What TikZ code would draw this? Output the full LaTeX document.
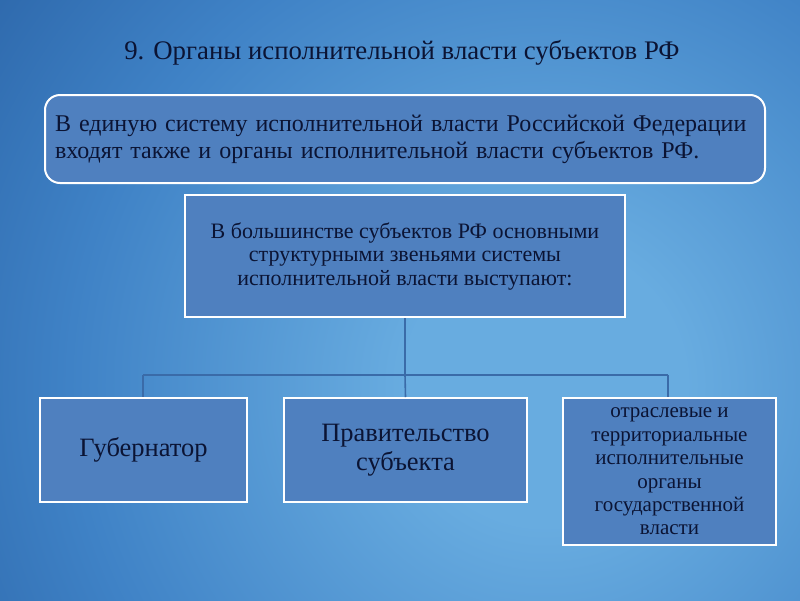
\documentclass[tikz,border=0pt]{standalone}
\usepackage{fontspec}
\setmainfont{Liberation Serif}
\definecolor{bgD}{HTML}{1B4A87}
\definecolor{bgT}{HTML}{2A63A6}
\definecolor{bgM}{HTML}{3F82C6}
\definecolor{bgL}{HTML}{68ACE0}
\definecolor{boxfill}{HTML}{4F80BF}
\definecolor{ink}{HTML}{0B1434}
\definecolor{conn}{HTML}{3A6BA8}
\pgfdeclareradialshading{bgshade}{\pgfpoint{0bp}{0bp}}{color(0bp)=(bgL); color(5bp)=(bgL); color(17bp)=(bgM); color(26bp)=(bgT); color(40bp)=(bgD); color(50bp)=(bgD)}
\tikzset{
  box/.style={draw=white, line width=2pt, fill=boxfill, text=ink, align=center, inner sep=4pt},
  conline/.style={draw=conn, line width=1.6pt},
}
\begin{document}
\begin{tikzpicture}[x=1pt,y=-1pt]
\useasboundingbox (0,0) rectangle (800,600);
\begin{scope}
\clip (0,0) rectangle (800,600);
\fill[bgD] (0,0) rectangle (800,600);
\shade[shading=bgshade] (545,385) circle (700);
\end{scope}
\node[text=ink, font=\fontsize{26.8}{30}\selectfont] (title) at (402,53) {9. Органы исполнительной власти субъектов РФ};
\node[box, rounded corners=15pt, minimum width=720pt, minimum height=88pt, text width=700pt, align=left, font=\fontsize{24}{27}\selectfont] (top) at (405,139)
 {В единую систему исполнительной власти Российской Федерации\\входят также и органы исполнительной власти субъектов РФ.};
\node[box, minimum width=440pt, minimum height=122pt, font=\fontsize{22}{23.5}\selectfont] (mid) at (405,256)
 {В большинстве субъектов РФ основными\\структурными звеньями системы\\исполнительной власти выступают:};
\node[box, minimum width=207pt, minimum height=104pt, font=\fontsize{26.5}{29}\selectfont] (b1) at (143.5,450) {Губернатор};
\node[box, minimum width=243pt, minimum height=104pt, font=\fontsize{26.5}{29}\selectfont] (b2) at (405.5,450) {Правительство\\субъекта};
\node[box, minimum width=213pt, minimum height=147pt, font=\fontsize{21}{23.4}\selectfont] (b3) at (669.5,471.5)
 {отраслевые и\\территориальные\\исполнительные\\органы\\государственной\\власти};
\coordinate (j) at (405,375);
\coordinate (jl) at (143,375);
\coordinate (jr) at (668,375);
\draw[conline] (mid.south) -- (j);
\draw[conline] (jl) -- (jr);
\draw[conline] (jl) -- (jl |- b1.north);
\draw[conline] (j) -- (b2.north);
\draw[conline] (jr) -- (jr |- b3.north);
\end{tikzpicture}
\end{document}
